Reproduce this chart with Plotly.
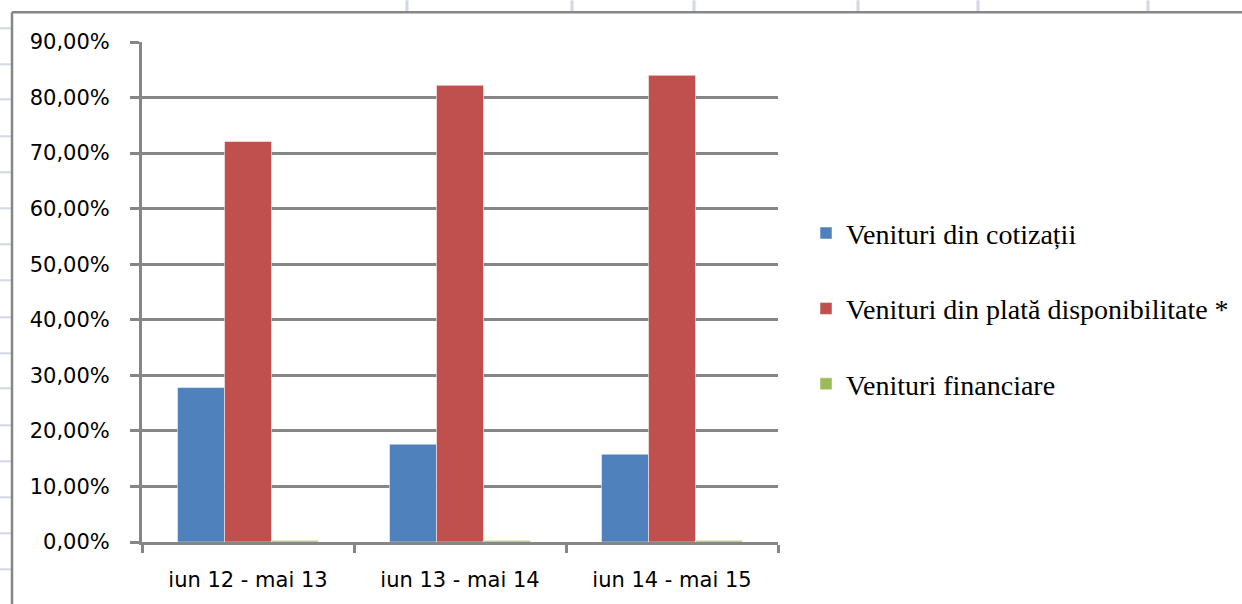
import plotly.graph_objects as go

# perioade si ponderi (fractii din total venituri)
perioade = ["iun 12 - mai 13", "iun 13 - mai 14", "iun 14 - mai 15"]
cotizatii = [0.278, 0.176, 0.158]
plata_disp = [0.721, 0.822, 0.840]
financiare = [0.0025, 0.0025, 0.0025]
serii = ["Venituri din cotizații", "Venituri din plată disponibilitate *", "Venituri financiare"]
culori = ["#4F81BD", "#C0504D", "#9BBB59"]
y_ticks = [0, 0.1, 0.2, 0.3, 0.4, 0.5, 0.6, 0.7, 0.8, 0.9]

W, H = 1242, 604
L, R, T, B = 142, 778, 41.7, 541.7  # plot area in pixels
GREY = "#868686"
CELL = "#d0d7e5"


def px(x):
    return (x - L) / (R - L)


def py(y):
    return (B - y) / (B - T)


fig = go.Figure()
for i, vals in enumerate([cotizatii, plata_disp, financiare]):
    fig.add_trace(go.Bar(x=perioade, y=vals, name=serii[i], legendgroup=str(i),
                         marker=dict(color=culori[i], line=dict(color="rgba(255,255,255,0.5)", width=1))))

shapes = []
# spreadsheet cell lines around the chart
for yy in [28, 64, 99, 136, 172, 208, 244, 280, 317, 353, 388, 425, 461, 497, 533, 569]:
    shapes.append(dict(type="line", xref="paper", yref="paper", x0=px(0), x1=px(11), y0=py(yy), y1=py(yy),
                       line=dict(color=CELL, width=2), layer="below"))
for xx in [407, 572, 694, 858, 978, 1148]:
    shapes.append(dict(type="line", xref="paper", yref="paper", x0=px(xx), x1=px(xx), y0=py(0), y1=py(11),
                       line=dict(color=CELL, width=3), layer="below"))
# chart border
shapes.append(dict(type="line", xref="paper", yref="paper", x0=px(12), x1=px(12), y0=py(12), y1=py(610),
                   line=dict(color=GREY, width=2.5)))
shapes.append(dict(type="line", xref="paper", yref="paper", x0=px(12), x1=px(1250), y0=py(12), y1=py(12),
                   line=dict(color=GREY, width=2.5)))

fig.update_layout(
    width=W, height=H,
    margin=dict(l=L, r=W - R, t=T, b=H - B, autoexpand=False),
    paper_bgcolor="white", plot_bgcolor="white",
    barmode="group", bargap=0.335, bargroupgap=0,
    separators=",.",
    shapes=shapes,
    showlegend=True,
    legend=dict(x=px(806), y=py(208), xanchor="left", yanchor="top",
                font=dict(family="Liberation Serif", size=28, color="black"),
                tracegroupgap=36, traceorder="grouped", bgcolor="rgba(0,0,0,0)"),
    xaxis=dict(showline=True, linecolor=GREY, linewidth=3, ticks="outside", tickson="boundaries",
               ticklen=8, tickwidth=3, tickcolor=GREY, showgrid=False, ticklabelstandoff=17,
               tickfont=dict(family="DejaVu Sans", size=21, color="black")),
    yaxis=dict(range=[0, 0.9], tickvals=y_ticks, tickformat=".2%", showline=True, linecolor=GREY,
               linewidth=3, ticks="outside", ticklen=9, tickwidth=3, tickcolor=GREY,
               showgrid=True, gridcolor=GREY, gridwidth=2.5, zeroline=False, ticklabelstandoff=16,
               tickfont=dict(family="DejaVu Sans", size=21, color="black")),
)

# page has a default 8px body margin; drop it so the figure sits at 0,0
fig.write_html("out.html", config={"displayModeBar": False},
               post_script="document.body.style.margin='0';")
